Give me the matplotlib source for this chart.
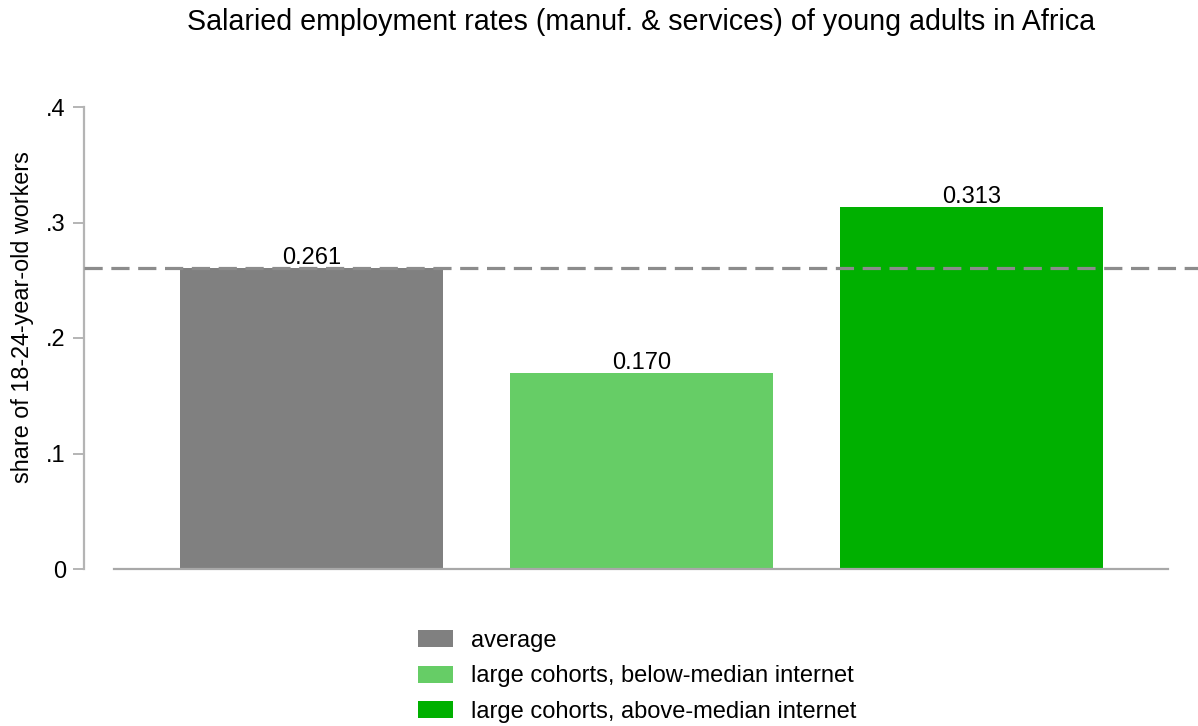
import matplotlib
matplotlib.use("Agg")
import matplotlib.pyplot as plt
from matplotlib.patches import Patch

categories = ["average", "large cohorts, below-median internet", "large cohorts, above-median internet"]
values = [0.261, 0.170, 0.313]
colors = ["#808080", "#66CD66", "#00B000"]
yticks = [0, 0.1, 0.2, 0.3, 0.4]
ytick_labels = ["0", ".1", ".2", ".3", ".4"]
avg_line = 0.261

plt.rcParams['font.family'] = ['Liberation Sans', 'DejaVu Sans']

W, H = 1198, 726
fig = plt.figure(figsize=(W/100, H/100), dpi=100)
ax = fig.add_axes([84/W, (H-569)/H, (1198-84)/W, 462/H])

x = list(range(len(values)))
bars = ax.bar(x, values, width=0.797, color=colors, zorder=2)
for xi, v in zip(x, values):
    ax.text(xi, v + 0.0035, f"{v:.3f}", ha="center", va="baseline", fontsize=17, zorder=4)

ax.axhline(avg_line, color="#8c8c8c", lw=2.3, dashes=(5.7, 2.7), zorder=3, clip_on=False)

ax.set_xlim(-0.689, 2.686)
ax.set_ylim(0, 0.4)
for s in ["top", "right"]:
    ax.spines[s].set_visible(False)
ax.spines["left"].set_color("#b4b4b4")
ax.spines["left"].set_linewidth(1.6)
ax.spines["bottom"].set_color("#a8a8a8")
ax.spines["bottom"].set_linewidth(1.6)
ax.spines["bottom"].set_bounds(-0.598, 2.595)
ax.set_xticks([])
ax.set_yticks(yticks)
ax.set_yticklabels(ytick_labels)
ax.tick_params(axis="y", length=8, width=1.4, color="#b4b4b4", labelsize=17, pad=5)
ax.set_ylabel("share of 18-24-year-old workers", fontsize=16.8)
ax.yaxis.set_label_coords(-0.0445, 0.545)

fig.text(641/W, 1 - 22/H, "Salaried employment rates (manuf. & services) of young adults in Africa",
         ha="center", va="center", fontsize=20.6)

handles = [Patch(facecolor=c, edgecolor="none") for c in colors]
leg = fig.legend(handles, categories, loc="upper left", bbox_to_anchor=(418/W, 1 - 630/H),
                 frameon=False, fontsize=17, handlelength=1.48, handleheight=0.72,
                 handletextpad=0.76, labelspacing=0.57, borderpad=0, borderaxespad=0)

fig.savefig("out.png", dpi=100)
